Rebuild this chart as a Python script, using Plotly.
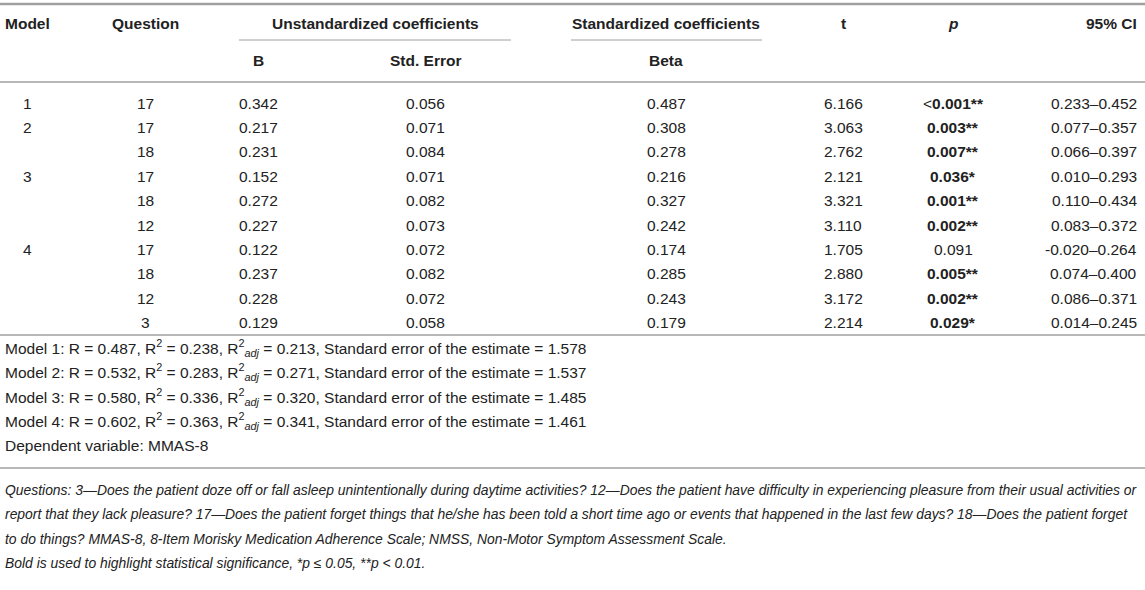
import plotly.graph_objects as go

# table contents
models = ["1", "2", "", "3", "", "", "4", "", "", ""]
questions = ["17", "17", "18", "17", "18", "12", "17", "18", "12", "3"]
b_vals = ["0.342", "0.217", "0.231", "0.152", "0.272", "0.227", "0.122", "0.237", "0.228", "0.129"]
se_vals = ["0.056", "0.071", "0.084", "0.071", "0.082", "0.073", "0.072", "0.082", "0.072", "0.058"]
beta_vals = ["0.487", "0.308", "0.278", "0.216", "0.327", "0.242", "0.174", "0.285", "0.243", "0.179"]
t_vals = ["6.166", "3.063", "2.762", "2.121", "3.321", "3.110", "1.705", "2.880", "3.172", "2.214"]
p_vals = ["<0.001**", "0.003**", "0.007**", "0.036*", "0.001**", "0.002**", "0.091", "0.005**", "0.002**", "0.029*"]
p_bold = [True, True, True, True, True, True, False, True, True, True]
ci_vals = ["0.233–0.452", "0.077–0.357", "0.066–0.397", "0.010–0.293", "0.110–0.434",
           "0.083–0.372", "-0.020–0.264", "0.074–0.400", "0.086–0.371", "0.014–0.245"]

model_r = ["0.487", "0.532", "0.580", "0.602"]
model_r2 = ["0.238", "0.283", "0.336", "0.363"]
model_r2adj = ["0.213", "0.271", "0.320", "0.341"]
model_se = ["1.578", "1.537", "1.485", "1.461"]

footnotes = [
    "Questions: 3—Does the patient doze off or fall asleep unintentionally during daytime activities? 12—Does the patient have difficulty in experiencing pleasure from their usual activities or",
    "report that they lack pleasure? 17—Does the patient forget things that he/she has been told a short time ago or events that happened in the last few days? 18—Does the patient forget",
    "to do things? MMAS-8, 8-Item Morisky Medication Adherence Scale; NMSS, Non-Motor Symptom Assessment Scale.",
    "Bold is used to highlight statistical significance, *p ≤ 0.05, **p < 0.01.",
]

FONT = "Liberation Sans, Arial, sans-serif"
TXT = "#222222"
LINE = "#a0a0a0"
FS = 15.5

fig = go.Figure()
anns = []


def add(x, y, text, anchor="center", bold=False, italic=False, size=FS):
    if bold:
        text = "<b>" + text + "</b>"
    if italic:
        text = "<i>" + text + "</i>"
    anns.append(dict(x=x, y=y, text=text, xanchor=anchor, yanchor="middle",
                     showarrow=False, font=dict(family=FONT, size=size, color=TXT)))


# header
add(3, 23, "Model", "left", bold=True)
add(145, 23, "Question", bold=True)
add(375, 23, "Unstandardized coefficients", bold=True)
add(666, 23, "Standardized coefficients", bold=True)
add(843, 23, "t", bold=True)
add(953, 23, "<i>p</i>", bold=True)
add(1139, 23, "95% CI", "right", bold=True)
add(258, 60, "B", bold=True)
add(425, 60, "Std. Error", bold=True)
add(666, 60, "Beta", bold=True)

# rows
y0, dy = 103, 24.4
for i in range(len(questions)):
    y = y0 + i * dy
    add(27, y, models[i])
    add(145, y, questions[i])
    add(258, y, b_vals[i])
    add(425, y, se_vals[i])
    add(666, y, beta_vals[i])
    add(843, y, t_vals[i])
    pv = p_vals[i]
    if p_bold[i]:
        if pv.startswith("<"):
            pv = "&lt;<b>" + pv[1:] + "</b>"
        else:
            pv = "<b>" + pv + "</b>"
    add(953, y, pv)
    add(1139, y, ci_vals[i], "right")

# model summaries
for k in range(4):
    y = 348 + k * 24.4
    add(3, y, "Model %d: R = %s, R<sup>2</sup> = %s, R<sup>2</sup><sub><i>adj</i></sub> = %s, Standard error of the estimate = %s"
        % (k + 1, model_r[k], model_r2[k], model_r2adj[k], model_se[k]), "left")
add(3, 445.5, "Dependent variable: MMAS-8", "left")

for k, line in enumerate(footnotes):
    add(3, 490 + k * 24.4, line.replace("<", "&lt;"), "left", italic=True, size=13.9)

shapes = [
    dict(type="line", x0=0, x1=1145, y0=4, y1=4, line=dict(color=LINE, width=2.5)),
    dict(type="line", x0=239, x1=511, y0=40, y1=40, line=dict(color=LINE, width=1)),
    dict(type="line", x0=571, x1=762, y0=40, y1=40, line=dict(color=LINE, width=1)),
    dict(type="line", x0=0, x1=1145, y0=82, y1=82, line=dict(color=LINE, width=1.5)),
    dict(type="line", x0=0, x1=1145, y0=335, y1=335, line=dict(color=LINE, width=1.5)),
    dict(type="line", x0=0, x1=1145, y0=468, y1=468, line=dict(color=LINE, width=1.5)),
]
for s in shapes:
    s.update(xref="x", yref="y")

fig.update_layout(
    width=1145, height=590,
    margin=dict(l=0, r=0, t=0, b=0),
    paper_bgcolor="white", plot_bgcolor="white",
    xaxis=dict(range=[0, 1145], visible=False, fixedrange=True),
    yaxis=dict(range=[590, 0], visible=False, fixedrange=True),
    annotations=anns, shapes=shapes, showlegend=False,
)

fig.write_html("out.html", config={"displayModeBar": False},
               post_script="document.body.style.margin='0';document.body.style.overflow='hidden';")
